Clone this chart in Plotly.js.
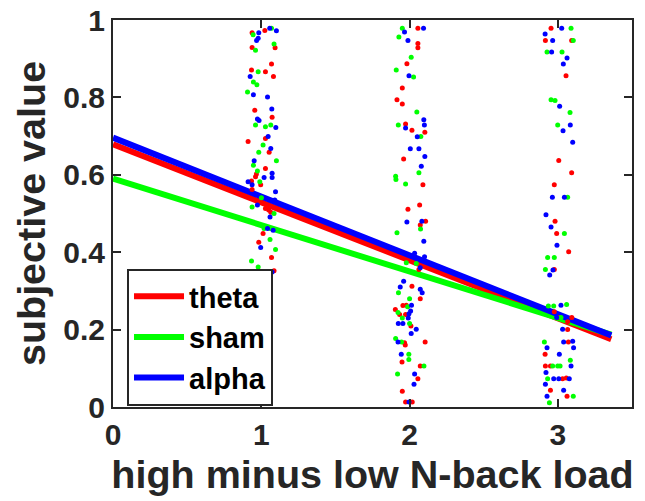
<!DOCTYPE html>
<html>
<head>
<meta charset="utf-8">
<script src="https://cdn.plot.ly/plotly-3.0.1.min.js"></script>
<style>html,body{margin:0;padding:0;background:#fff}#chart{width:645px;height:501px}</style>
</head>
<body>
<div id="chart"></div>
<script>
// Regression lines
const lineX = [0, 3.36];
const thetaLine = [0.679, 0.175];
const shamLine = [0.590, 0.187];
const alphaLine = [0.696, 0.185];

// Jittered subject points (theta = red)
const thetaX = [0.938,1.024,1.093,0.938,1.069,0.934,1.028,1.082,0.956,1.073,1.028,0.911,1.053,
  1.028,0.967,0.961,0.934,0.996,0.938,1.028,1.05,1.064,1.012,0.983,1.069,1.086,
  2.056,2.056,2.056,1.982,1.951,1.915,1.951,1.973,2.016,2.103,1.960,2.090,2.068,1.989,
  2.108,2.072,2.063,2.016,2.072,1.978,1.955,1.904,1.933,1.973,2.009,1.966,1.971,2.105,1.949,2.072,2.056,1.951,1.973,2.018,
  2.954,2.916,3.093,3.055,3.006,3.093,2.976,
  2.981,2.992,3.073,2.976,2.976,3.010,3.094,3.066,3.066,3.071,2.914,2.916,2.950,3.032,3.057,2.950,3.062];
const thetaY = [0.967,0.973,0.928,0.929,0.886,0.871,0.866,0.854,0.767,0.749,0.694,0.686,0.658,
  0.616,0.602,0.595,0.584,0.574,0.562,0.513,0.509,0.503,0.448,0.426,0.386,0.352,
  0.979,0.939,0.928,0.887,0.824,0.794,0.783,0.731,0.715,0.710,0.641,0.574,0.522,0.511,
  0.480,0.470,0.355,0.312,0.280,0.263,0.262,0.252,0.239,0.239,0.209,0.166,0.160,0.168,0.116,0.106,0.073,0.041,0.013,0.013,
  0.979,0.947,0.947,0.856,0.637,0.605,0.574,
  0.480,0.448,0.401,0.355,0.246,0.231,0.231,0.220,0.200,0.168,0.136,0.106,0.106,0.073,0.075,0.043,0.028];

// sham = green
const shamX = [0.945,1.069,1.086,0.961,0.979,0.947,0.970,0.907,0.961,1.028,1.064,1.012,0.983,
  1.102,0.947,0.974,0.990,1.001,0.938,1.086,1.019,1.059,1.096,0.934,0.979,
  1.951,1.928,2.011,1.910,2.027,2.049,1.924,2.076,2.063,1.906,1.908,1.973,
  2.074,1.915,1.978,2.045,1.925,2.0,1.987,1.922,1.951,2.0,1.906,1.946,1.995,1.995,2.097,1.919,
  3.089,3.104,2.927,3.028,2.954,2.981,3.082,2.999,3.066,
  3.044,2.931,2.976,2.916,2.936,2.972,3.059,3.021,2.909,3.084,2.965,2.999,3.015,2.931,3.104,2.943];
const shamY = [0.962,0.979,0.938,0.922,0.866,0.840,0.833,0.814,0.729,0.724,0.729,0.677,0.658,
  0.636,0.625,0.610,0.582,0.541,0.517,0.500,0.461,0.433,0.407,0.377,0.362,
  0.979,0.956,0.904,0.871,0.853,0.762,0.729,0.699,0.605,0.596,0.588,0.576,
  0.460,0.450,0.373,0.371,0.295,0.280,0.259,0.244,0.230,0.216,0.177,0.168,0.136,0.123,0.106,0.085,
  0.979,0.947,0.917,0.917,0.794,0.792,0.761,0.729,0.542,
  0.448,0.386,0.386,0.355,0.261,0.261,0.265,0.231,0.168,0.121,0.106,0.106,0.106,0.073,0.028,0.011];

// alpha = blue
const alphaX = [0.983,1.057,1.102,0.979,0.968,0.925,0.947,1.042,1.071,0.974,0.985,1.098,1.046,1.064,
  0.952,1.073,1.019,1.073,0.911,0.938,1.096,1.091,0.974,1.059,1.042,1.080,0.996,1.073,
  2.094,1.966,1.989,1.996,2.096,2.1,1.973,2.052,2.005,2.063,2.103,2.079,
  1.982,2.083,2.096,2.034,2.101,2.072,1.960,1.937,2.072,2.085,2.013,2.007,1.996,1.991,1.924,1.955,2.045,2.011,1.922,1.944,2.034,2.030,1.996,
  3.026,2.914,2.965,2.958,3.062,3.037,3.012,3.084,3.035,3.1,2.963,3.044,
  2.920,2.954,2.994,2.967,2.945,3.021,2.992,3.032,3.039,3.1,2.927,3.106,3.010,3.089,2.920,2.972,3.077,3.006,2.916,3.039,2.927];
const alphaY = [0.967,0.979,0.972,0.953,0.947,0.854,0.807,0.801,0.770,0.744,0.740,0.722,0.699,0.668,
  0.636,0.604,0.593,0.593,0.582,0.574,0.556,0.535,0.522,0.491,0.461,0.457,0.412,0.349,
  0.979,0.969,0.947,0.856,0.742,0.729,0.721,0.698,0.667,0.667,0.647,0.622,
  0.478,0.480,0.428,0.397,0.388,0.360,0.325,0.310,0.304,0.295,0.263,0.248,0.241,0.230,0.216,0.216,0.201,0.190,0.168,0.136,0.085,0.059,0.013,
  0.979,0.964,0.947,0.917,0.902,0.886,0.777,0.729,0.714,0.684,0.542,0.542,
  0.497,0.465,0.418,0.354,0.341,0.263,0.231,0.201,0.168,0.170,0.153,0.153,0.136,0.106,0.089,0.073,0.073,0.073,0.059,0.043,0.028];

const xTicks = [0, 1, 2, 3];
const yTicks = [0, 0.2, 0.4, 0.6, 0.8, 1];
const yTickText = ['0', '0.2', '0.4', '0.6', '0.8', '1'];

const RED = '#ff0000', GREEN = '#00ff00', BLUE = '#0000ff';
const FONT = 'Liberation Sans, Arial, Helvetica, sans-serif';

function lineTrace(y, color, name) {
  return {x: lineX, y: y, type: 'scatter', mode: 'lines', name: name,
    line: {color: color, width: 6}, hoverinfo: 'skip'};
}
function dotTrace(x, y, color) {
  return {x: x, y: y, type: 'scatter', mode: 'markers', showlegend: false,
    marker: {color: color, size: 5, line: {width: 0}}, hoverinfo: 'skip'};
}

const data = [
  lineTrace(thetaLine, RED, 'theta'),
  lineTrace(shamLine, GREEN, 'sham'),
  lineTrace(alphaLine, BLUE, 'alpha'),
  dotTrace(thetaX, thetaY, RED),
  dotTrace(shamX, shamY, GREEN),
  dotTrace(alphaX, alphaY, BLUE)
];

const axisCommon = {
  showline: true, linecolor: '#262626', linewidth: 2, mirror: 'ticks',
  ticks: 'inside', ticklen: 8, tickwidth: 2, tickcolor: '#262626',
  showgrid: false, zeroline: false,
  tickfont: {family: FONT, size: 30, color: '#262626', weight: 'bold'}
};

const layout = {
  width: 645, height: 501,
  margin: {l: 113, r: 13, t: 20, b: 94},
  paper_bgcolor: '#ffffff', plot_bgcolor: '#ffffff',
  showlegend: true,
  xaxis: Object.assign({}, axisCommon, {
    range: [0, 3.5], tickvals: xTicks, ticktext: xTicks.map(String),
    title: {text: 'high minus low N-back load', standoff: 10,
      font: {family: FONT, size: 39.5, color: '#262626', weight: 'bold'}}
  }),
  yaxis: Object.assign({}, axisCommon, {
    range: [0, 1], tickvals: yTicks, ticktext: yTickText,
    title: {text: 'subjective value', standoff: 5,
      font: {family: FONT, size: 39.5, color: '#262626', weight: 'bold'}}
  }),
  legend: {
    x: 0.027, y: 0.357, xanchor: 'left', yanchor: 'top',
    bgcolor: '#ffffff', bordercolor: '#262626', borderwidth: 2,
    font: {family: FONT, size: 29, color: '#000000', weight: 'bold'},
    itemwidth: 50, tracegroupgap: 0
  }
};

Plotly.newPlot('chart', data, layout, {staticPlot: true, displayModeBar: false});
</script>
</body>
</html>
